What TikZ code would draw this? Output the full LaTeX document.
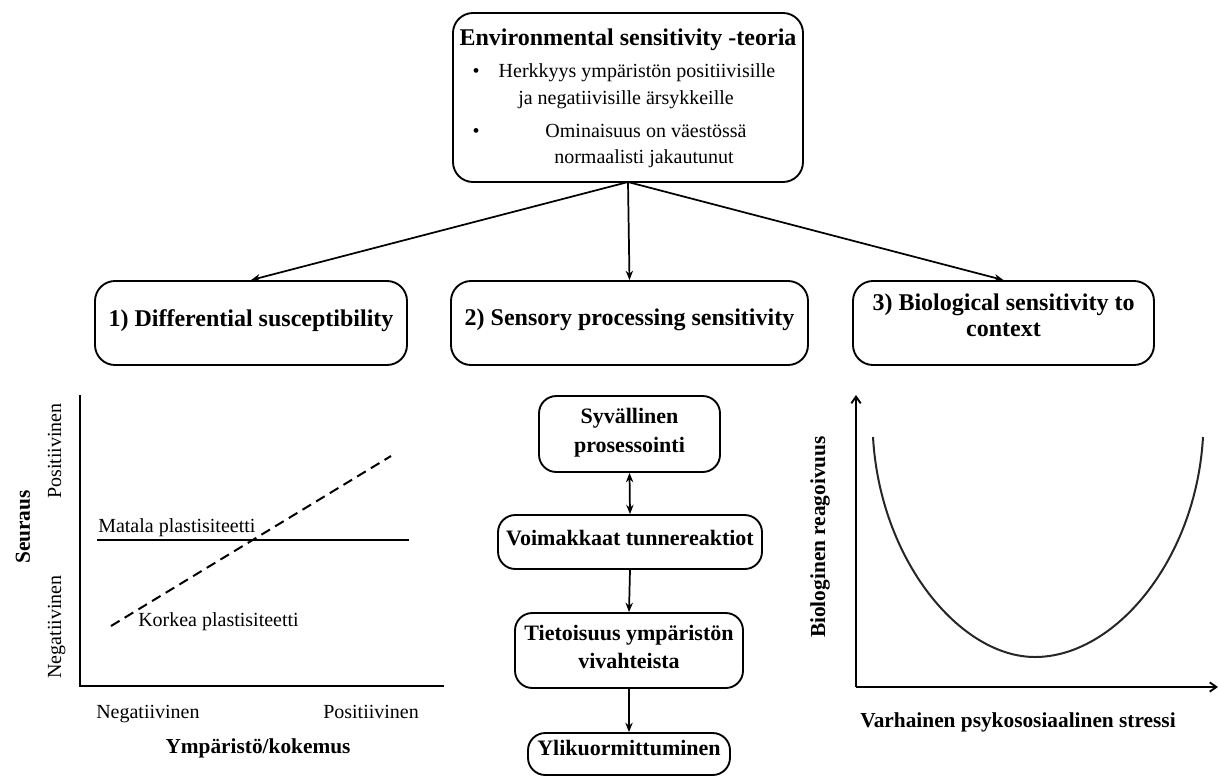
\documentclass[tikz,border=0pt]{standalone}
\usepackage{fontspec}
\setmainfont{Liberation Serif}
\usetikzlibrary{arrows.meta,fit}
\newcommand\rfont{\rmfamily\mdseries\fontsize{15}{18}\selectfont}
\newcommand\hfont{\rmfamily\fontsize{18}{22}\selectfont\bfseries}
\newcommand\cfont{\rmfamily\fontsize{16.5}{20}\selectfont\bfseries}
\newcommand\lfont{\rmfamily\fontsize{16}{19}\selectfont\bfseries}
\begin{document}
\begin{tikzpicture}[x=0.75pt,y=-0.75pt,
  box/.style={draw, line width=1.4pt, rounded corners=15pt, inner sep=0pt},
  sbox/.style={draw, line width=1.4pt, rounded corners=13pt, inner sep=0pt},
  arr/.style={-{Stealth[length=7pt,width=5.5pt]}, line width=1.3pt},
  darr/.style={{Stealth[length=7pt,width=5.5pt]}-{Stealth[length=7pt,width=5.5pt]}, line width=1.3pt},
  axis/.style={line width=1.5pt},
  axarr/.style={-{Straight Barb[length=5pt,width=7pt]}, line width=1.4pt},
  txt/.style={anchor=base, inner sep=0pt}]
\useasboundingbox (0,0) rectangle (1218,776);

% top box
\node[box, fit={(453,13) (803,182)}] (top) {};
\node[txt] (t0) at (628,45) {\hfont Environmental sensitivity -teoria};
\node[txt] (b1) at (476,77) {\rfont •};
\node[txt] (t1) at (637,77) {\rfont Herkkyys ympäristön positiivisille};
\node[txt] (t2) at (626,104) {\rfont ja negatiivisille ärsykkeille};
\node[txt] (b2) at (476,137) {\rfont •};
\node[txt] (t3) at (646,137) {\rfont Ominaisuus on väestössä};
\node[txt] (t4) at (644,163) {\rfont normaalisti jakautunut};

% three boxes
\node[box, fit={(95,281) (407,365)}] (ds) {};
\node[txt] (dst) at (251,326) {\hfont 1) Differential susceptibility};
\node[box, fit={(451,281) (808,365)}] (sps) {};
\node[txt] (spst) at (629.5,325) {\hfont 2) Sensory processing sensitivity};
\node[box, fit={(853,281) (1154,365)}] (bsc) {};
\node[txt] (bsct1) at (1003.5,310) {\hfont 3) Biological sensitivity to};
\node[txt] (bsct2) at (1003.5,336) {\hfont context};

\coordinate (o) at (628,182);
\draw[arr] (o) -- (ds.north);
\draw[arr] (o) -- (sps.north);
\draw[arr] (o) -- (bsc.north);

% center flow
\node[sbox, fit={(539,396) (720,472)}] (c1) {};
\node[txt] at (629.5,423) {\cfont Syvällinen};
\node[txt] at (629.5,452) {\cfont prosessointi};
\node[sbox, fit={(498,515) (762,569)}] (c2) {};
\node[txt] at (630,545) {\cfont Voimakkaat tunnereaktiot};
\node[sbox, fit={(515,613) (743,688)}] (c3) {};
\node[txt] at (629,640) {\cfont Tietoisuus ympäristön};
\node[txt] at (629,668) {\cfont vivahteista};
\node[sbox, fit={(528,733) (730,775)}] (c4) {};
\node[txt] at (629,755) {\cfont Ylikuormittuminen};
\draw[darr] (c1.south) -- (c2.north);
\draw[arr] (c2.south) -- (c3.north);
\draw[arr] (c3.south) -- (c4.north);

% left graph
\coordinate (lo) at (80,686);
\coordinate (ly) at (80,395);
\coordinate (lx) at (444,686);
\draw[axis] (ly) -- (lo) -- (lx);
\coordinate (m1) at (97,540);
\coordinate (m2) at (409,540);
\draw[line width=1.4pt] (m1) -- (m2);
\coordinate (k1) at (111,626);
\coordinate (k2) at (391,456);
\draw[line width=1.5pt, dash pattern=on 7.5pt off 4.5pt] (k1) -- (k2);
\node[txt, anchor=base west] (ml) at (98,532) {\rfont Matala plastisiteetti};
\node[txt, anchor=base west] (kl) at (138,626) {\rfont Korkea plastisiteetti};
\node[txt, anchor=base west] (xn) at (96,718) {\rfont Negatiivinen};
\node[txt, anchor=base west] (xp) at (323,718) {\rfont Positiivinen};
\node[txt] (xl) at (258,753) {\lfont Ympäristö/kokemus};
\node[txt, rotate=90] (yp) at (61,451) {\rfont Positiivinen};
\node[txt, rotate=90] (yn) at (61,627) {\rfont Negatiivinen};
\node[txt, rotate=90] (yl) at (30,527) {\lfont Seuraus};

% right graph
\coordinate (ro) at (856,687);
\coordinate (ry) at (856,395);
\coordinate (rx) at (1218,687);
\draw[axarr] (ro) -- (ry);
\draw[axarr] (ro) -- (rx);
\coordinate (u1) at (873,437);
\coordinate (u2) at (1035,657);
\coordinate (u3) at (1203,437);
\draw[line width=1.5pt, black!85] (u1) .. controls (880,560) and (960,657) .. (u2)
  .. controls (1115,657) and (1196,560) .. (u3);
\node[txt, rotate=90] (byl) at (825,537) {\lfont Biologinen reagoivuus};
\node[txt] (bxl) at (1018,727) {\lfont Varhainen psykososiaalinen stressi};
\end{tikzpicture}
\end{document}
